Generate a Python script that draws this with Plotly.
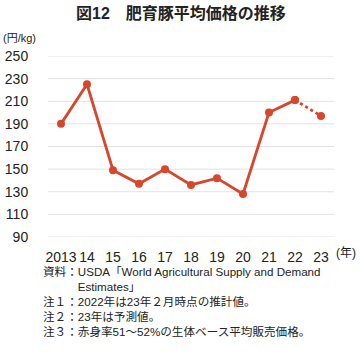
import plotly.graph_objects as go

years = ["2013", "14", "15", "16", "17", "18", "19", "20", "21", "22", "23"]
prices = [190, 225, 149, 137, 150, 136, 142, 128, 200, 211, 197]
y_ticks = [90, 110, 130, 150, 170, 190, 210, 230, 250]

title_text = "図12　肥育豚平均価格の推移"
y_unit = "(円/kg)"
x_unit = "(年)"
notes = [
    "資料：USDA「World Agricultural Supply and Demand",
    "　　　Estimates」",
    "注１：2022年は23年２月時点の推計値。",
    "注２：23年は予測値。",
    "注３：赤身率51～52%の生体ベース平均販売価格。",
]

RED = "#d6472b"
FONT = "Liberation Sans, Noto Sans CJK JP"
TXT = "#222222"
GRID = "#e2e2e2"

L, R, T, B = 48, 26, 56, 119
W, H = 360, 356
PW, PH = W - L - R, H - T - B


def px(x):
    return (x - L) / PW


def py(y):
    return 1 - (y - T) / PH


fig = go.Figure()
fig.add_trace(go.Scatter(
    x=years[:-1], y=prices[:-1], mode="lines+markers",
    line=dict(color=RED, width=2.8),
    marker=dict(color=RED, size=8),
    hoverinfo="skip", showlegend=False,
))
fig.add_trace(go.Scatter(
    x=years[-2:], y=prices[-2:], mode="lines+markers",
    line=dict(color=RED, width=2.8, dash="dot"),
    marker=dict(color=RED, size=8),
    hoverinfo="skip", showlegend=False,
))

# horizontal gridlines at each y tick, placed through the y axis scale
for v in y_ticks:
    fig.add_shape(
        type="line", xref="paper", yref="y", x0=0, x1=1, y0=v, y1=v,
        line=dict(color=GRID, width=1), layer="below",
    )

fig.update_layout(
    template="none",
    width=W, height=H,
    margin=dict(l=L, r=R, t=T, b=B, autoexpand=False),
    paper_bgcolor="white", plot_bgcolor="white",
    font=dict(family=FONT, size=14, color=TXT),
    hovermode=False,
    xaxis=dict(
        type="category", range=[-0.5, 10.5], showgrid=False, showline=False,
        zeroline=False, ticks="outside", ticklen=7, tickcolor="rgba(0,0,0,0)",
        automargin=False, tickfont=dict(family=FONT, size=14, color=TXT),
    ),
    yaxis=dict(
        range=[90, 250], tickmode="array", tickvals=y_ticks,
        showgrid=False, zeroline=False, showline=False,
        ticks="outside", ticklen=16, tickcolor="rgba(0,0,0,0)",
        automargin=False, tickfont=dict(family=FONT, size=14, color=TXT),
    ),
)

fig.add_annotation(
    text="<b>" + title_text + "</b>", xref="paper", yref="paper",
    x=px(181), y=py(13), xanchor="center", yanchor="middle", showarrow=False,
    font=dict(family=FONT, size=16, color=TXT),
)
fig.add_annotation(
    text=y_unit, xref="paper", yref="paper",
    x=px(1), y=py(38), xanchor="left", yanchor="middle", showarrow=False,
    font=dict(family=FONT, size=11, color=TXT),
)
fig.add_annotation(
    text=x_unit, xref="paper", yref="paper",
    x=px(334), y=py(253), xanchor="left", yanchor="middle", showarrow=False,
    font=dict(family=FONT, size=12, color=TXT),
)
fig.add_annotation(
    text="<br>".join(notes), xref="paper", yref="paper",
    x=px(41), y=py(263), xanchor="left", yanchor="top", align="left",
    showarrow=False,
    font=dict(family=FONT, size=11.6, color=TXT),
)

fig.write_html(
    "out.html",
    config={"displayModeBar": False, "staticPlot": True},
    post_script="document.body.style.margin='0';",
)
